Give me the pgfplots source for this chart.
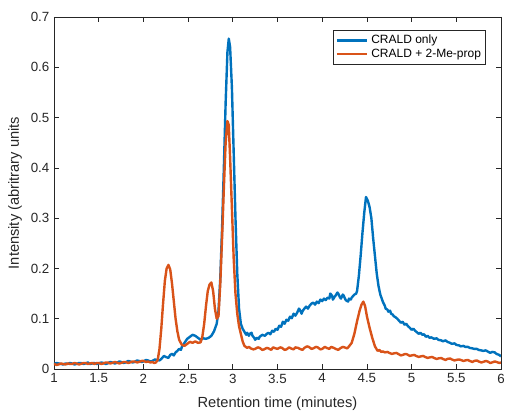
\documentclass[border=0pt]{standalone}
\usepackage{pgfplots}
\pgfplotsset{compat=1.18}
\usepackage{fontspec}
\setmainfont{Liberation Sans}
\definecolor{mblue}{rgb}{0,0.447,0.741}
\definecolor{morange}{rgb}{0.85,0.325,0.098}
\definecolor{axgray}{rgb}{0.15,0.15,0.15}
\begin{document}
\begin{tikzpicture}
\useasboundingbox (-40.5pt,-33pt) rectangle (339.75pt,276.75pt);
\begin{axis}[
  scale only axis,
  width=335.25pt, height=264pt,
  xmin=1, xmax=6, ymin=0, ymax=0.7,
  xtick={1,1.5,...,6}, ytick={0,0.1,...,0.7},
  yticklabels={0,0.1,0.2,0.3,0.4,0.5,0.6,0.7},
  xticklabels={1,1.5,2,2.5,3,3.5,4,4.5,5,5.5,6},
  tick align=inside, major tick length=3.4pt,
  axis line style={axgray, line width=0.5pt},
  tick style={axgray, line width=0.5pt},
  ticklabel style={font=\fontsize{10}{12}\selectfont, text=axgray},
  label style={font=\fontsize{11}{13}\selectfont, text=axgray},
  xlabel={Retention time (minutes)},
  ylabel={Intensity (abritrary units},
  xlabel style={at={(axis description cs:0.5,-0.0985)}, anchor=center},
  ylabel style={at={(axis description cs:-0.0872,0.5)}, anchor=center},
  /pgf/number format/assume math mode=true,
  legend style={at={(1,1)}, anchor=north east, xshift=-11.25pt, yshift=-9.75pt,
    draw=axgray, line width=0.5pt, font=\fontsize{9}{11}\selectfont,
    inner sep=1.5pt, row sep=-1.5pt, cells={anchor=west}},
  legend cell align=left,
  legend image code/.code={\draw[#1] (0pt,0pt) -- (23pt,0pt);},
  every axis plot/.append style={line width=1.8pt, line join=round},
]
\addplot[mblue] coordinates {
(1.00,0.010)(1.03,0.012)(1.05,0.011)(1.08,0.010)(1.10,0.009)(1.13,0.011)(1.15,0.010)(1.18,0.012)(1.20,0.011)(1.23,0.009)
(1.25,0.010)(1.28,0.012)(1.30,0.012)(1.33,0.010)(1.35,0.011)(1.38,0.013)(1.40,0.010)(1.43,0.011)(1.45,0.012)(1.48,0.010)
(1.50,0.011)(1.53,0.013)(1.55,0.012)(1.58,0.010)(1.60,0.011)(1.63,0.014)(1.65,0.013)(1.68,0.011)(1.70,0.012)(1.73,0.015)
(1.75,0.014)(1.78,0.012)(1.80,0.013)(1.83,0.016)(1.85,0.015)(1.88,0.013)(1.90,0.014)(1.93,0.017)(1.95,0.016)(1.98,0.014)
(2.00,0.015)(2.03,0.018)(2.05,0.017)(2.08,0.015)(2.10,0.016)(2.13,0.019)(2.15,0.018)(2.18,0.017)(2.20,0.020)(2.23,0.026)
(2.25,0.024)(2.28,0.022)(2.30,0.028)(2.32,0.030)(2.34,0.027)(2.36,0.033)(2.38,0.036)(2.40,0.040)(2.42,0.038)(2.43,0.044)
(2.46,0.052)(2.49,0.060)(2.52,0.064)(2.55,0.068)(2.58,0.066)(2.61,0.062)(2.64,0.058)(2.67,0.061)(2.70,0.060)
(2.73,0.062)(2.76,0.066)(2.79,0.075)(2.82,0.090)(2.84,0.115)(2.86,0.180)(2.88,0.280)(2.90,0.400)(2.92,0.530)(2.94,0.630)
(2.955,0.657)(2.97,0.640)(2.99,0.560)(3.01,0.430)(3.03,0.300)(3.05,0.190)(3.07,0.120)(3.09,0.090)(3.11,0.080)(3.13,0.074)
(3.15,0.068)(3.16,0.072)(3.18,0.066)(3.19,0.070)(3.21,0.072)(3.22,0.066)(3.24,0.062)(3.25,0.058)(3.27,0.062)(3.29,0.060)
(3.30,0.064)(3.33,0.068)(3.36,0.066)(3.38,0.070)(3.40,0.072)(3.42,0.069)(3.44,0.076)(3.46,0.074)(3.48,0.080)(3.50,0.078)
(3.52,0.086)(3.54,0.084)(3.56,0.094)(3.58,0.090)(3.60,0.098)(3.62,0.096)(3.64,0.104)(3.66,0.101)(3.68,0.110)(3.70,0.106)
(3.72,0.112)(3.74,0.120)(3.75,0.118)(3.77,0.110)(3.78,0.115)(3.80,0.120)(3.82,0.124)(3.84,0.120)(3.86,0.126)(3.88,0.130)
(3.90,0.132)(3.92,0.128)(3.94,0.134)(3.96,0.131)(3.98,0.138)(4.00,0.135)(4.02,0.140)(4.04,0.137)(4.06,0.142)(4.08,0.140)
(4.09,0.150)(4.11,0.146)(4.12,0.138)(4.14,0.144)(4.15,0.146)(4.17,0.152)(4.18,0.150)(4.20,0.142)(4.21,0.140)(4.23,0.148)
(4.24,0.146)(4.26,0.138)(4.27,0.136)(4.29,0.134)(4.30,0.140)(4.32,0.138)(4.33,0.142)(4.35,0.146)(4.36,0.148)(4.38,0.150)
(4.39,0.155)(4.41,0.185)(4.43,0.225)(4.45,0.270)(4.47,0.310)(4.49,0.342)(4.51,0.335)(4.53,0.322)(4.55,0.300)(4.57,0.260)
(4.59,0.225)(4.61,0.190)(4.63,0.165)(4.65,0.148)(4.68,0.133)(4.70,0.126)(4.71,0.120)(4.73,0.118)(4.74,0.114)(4.76,0.116)
(4.77,0.110)(4.79,0.108)(4.80,0.105)(4.82,0.103)(4.84,0.100)(4.86,0.096)(4.88,0.092)(4.90,0.094)(4.92,0.088)(4.94,0.090)
(4.96,0.085)(4.98,0.082)(5.00,0.078)(5.02,0.080)(5.04,0.076)(5.06,0.073)(5.08,0.070)(5.10,0.072)(5.12,0.068)(5.14,0.069)
(5.16,0.064)(5.18,0.066)(5.20,0.062)(5.22,0.063)(5.25,0.060)(5.28,0.061)(5.30,0.058)(5.33,0.057)(5.35,0.055)(5.38,0.057)
(5.40,0.054)(5.43,0.052)(5.45,0.050)(5.48,0.051)(5.50,0.048)(5.53,0.047)(5.55,0.045)(5.58,0.046)(5.60,0.044)(5.63,0.044)
(5.65,0.042)(5.68,0.041)(5.70,0.040)(5.73,0.040)(5.75,0.038)(5.78,0.037)(5.80,0.036)(5.83,0.037)(5.85,0.035)(5.88,0.032)
(5.90,0.034)(5.93,0.033)(5.95,0.030)(5.98,0.028)(6.00,0.025)
};
\addlegendentry{CRALD only}
\addplot[morange] coordinates {
(1.00,0.010)(1.03,0.008)(1.05,0.009)(1.08,0.011)(1.10,0.010)(1.13,0.009)(1.15,0.011)(1.18,0.010)(1.20,0.010)(1.23,0.012)
(1.25,0.011)(1.28,0.009)(1.30,0.010)(1.33,0.012)(1.35,0.012)(1.38,0.010)(1.40,0.011)(1.43,0.012)(1.45,0.010)(1.48,0.012)
(1.50,0.012)(1.53,0.010)(1.55,0.011)(1.58,0.013)(1.60,0.013)(1.63,0.011)(1.65,0.012)(1.68,0.014)(1.70,0.013)(1.73,0.011)
(1.75,0.012)(1.78,0.014)(1.80,0.014)(1.83,0.012)(1.85,0.013)(1.88,0.015)(1.90,0.015)(1.93,0.013)(1.95,0.014)(1.98,0.016)
(2.00,0.016)(2.03,0.014)(2.05,0.015)(2.08,0.013)(2.10,0.014)(2.12,0.012)(2.14,0.013)(2.16,0.018)(2.18,0.040)(2.20,0.080)
(2.22,0.130)(2.24,0.175)(2.26,0.200)(2.28,0.207)(2.30,0.198)(2.32,0.170)(2.34,0.135)(2.36,0.100)(2.38,0.075)(2.40,0.058)
(2.43,0.048)(2.46,0.046)(2.49,0.050)(2.52,0.054)(2.55,0.052)(2.58,0.055)(2.61,0.052)(2.64,0.053)(2.66,0.065)(2.68,0.090)
(2.70,0.125)(2.72,0.155)(2.74,0.168)(2.76,0.172)(2.78,0.155)(2.80,0.120)(2.82,0.100)(2.84,0.105)(2.86,0.170)(2.88,0.260)
(2.90,0.360)(2.92,0.450)(2.94,0.493)(2.955,0.485)(2.97,0.420)(2.99,0.320)(3.01,0.220)(3.03,0.150)(3.05,0.110)(3.07,0.085)
(3.09,0.070)(3.11,0.055)(3.13,0.046)(3.16,0.042)(3.18,0.044)(3.20,0.041)(3.23,0.039)(3.25,0.040)(3.28,0.043)(3.30,0.042)
(3.33,0.038)(3.35,0.039)(3.38,0.042)(3.40,0.041)(3.43,0.038)(3.45,0.043)(3.48,0.041)(3.50,0.040)(3.53,0.043)(3.55,0.042)
(3.58,0.038)(3.60,0.039)(3.63,0.043)(3.65,0.041)(3.68,0.039)(3.70,0.043)(3.73,0.042)(3.75,0.040)(3.78,0.038)(3.80,0.042)
(3.83,0.045)(3.85,0.044)(3.88,0.040)(3.90,0.041)(3.93,0.044)(3.95,0.043)(3.98,0.039)(4.00,0.040)(4.03,0.044)(4.05,0.042)
(4.08,0.040)(4.10,0.044)(4.13,0.042)(4.15,0.040)(4.18,0.038)(4.20,0.041)(4.23,0.044)(4.25,0.043)(4.28,0.041)(4.30,0.045)
(4.33,0.052)(4.36,0.070)(4.39,0.095)(4.42,0.117)(4.44,0.128)(4.46,0.134)(4.48,0.125)(4.50,0.105)(4.53,0.082)(4.56,0.062)
(4.59,0.045)(4.62,0.036)(4.64,0.038)(4.66,0.034)(4.68,0.035)(4.70,0.033)(4.73,0.034)(4.75,0.032)(4.78,0.030)(4.80,0.031)
(4.83,0.032)(4.85,0.030)(4.88,0.027)(4.90,0.028)(4.93,0.030)(4.95,0.029)(4.98,0.026)(5.00,0.027)(5.03,0.028)(5.05,0.026)
(5.08,0.024)(5.10,0.025)(5.13,0.026)(5.15,0.024)(5.18,0.022)(5.20,0.023)(5.23,0.024)(5.25,0.022)(5.28,0.020)(5.30,0.021)
(5.33,0.022)(5.35,0.020)(5.38,0.018)(5.40,0.020)(5.43,0.021)(5.45,0.019)(5.48,0.017)(5.50,0.018)(5.53,0.019)(5.55,0.018)
(5.58,0.016)(5.60,0.017)(5.63,0.018)(5.65,0.016)(5.68,0.014)(5.70,0.016)(5.73,0.017)(5.75,0.015)(5.78,0.013)(5.80,0.014)
(5.83,0.016)(5.85,0.015)(5.88,0.012)(5.90,0.013)(5.93,0.015)(5.95,0.014)(5.98,0.012)(6.00,0.013)
};
\addlegendentry{CRALD + 2-Me-prop}
\end{axis}
\end{tikzpicture}
\end{document}
